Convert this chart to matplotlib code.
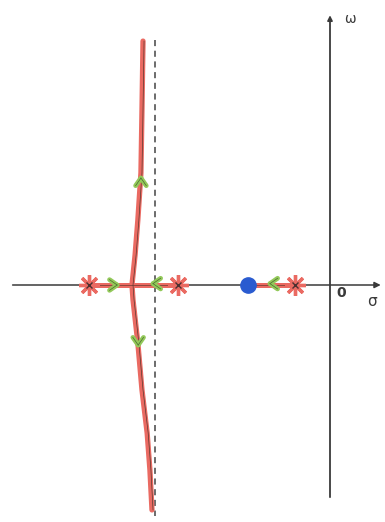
import matplotlib
matplotlib.use("Agg")
import matplotlib.pyplot as plt
import numpy as np

# Open-loop poles and zero on the real axis (s-plane units)
poles = [-6.99, -4.41, -1.01]
zeros = [-2.38]
asymptote_sigma = -5.07

# Complex branch leaving the breakaway point (hand-sketched shape)
branch_sigma = [-5.42, -5.45, -5.48, -5.57, -5.65, -5.74, -5.71, -5.57, -5.45, -5.30, -5.22, -5.16]
branch_omega = [7.07, 5.07, 3.25, 1.88, 0.87, 0.0, -0.43, -1.68, -3.04, -4.29, -5.36, -6.52]

# Real-axis locus segments
real_segments = [(-6.99, -4.41), (-2.38, -1.01)]

# Direction arrows: (sigma, omega, direction angle in degrees)
arrow_sigma = [-5.48, -5.56, -6.17, -5.13, -1.74]
arrow_omega = [3.10, -1.74, 0.0, 0.04, 0.04]
arrow_angle = [90, -90, 0, 180, 180]

scale = 34.5  # pixels per unit
W, H = 385, 522
x0, y0 = 330, 285  # origin position in pixels

fig = plt.figure(figsize=(W / 100, H / 100), dpi=100)
ax = fig.add_axes([0, 0, 1, 1])
ax.set_xlim(-x0 / scale, (W - x0) / scale)
ax.set_ylim(-(H - y0) / scale, y0 / scale)
ax.axis("off")

axis_col = "#3a3a3a"
red = "#ea6a62"
green = "#93c95a"

# Coordinate axes
ax.annotate("", xy=(1.55, 0), xytext=(-9.28, 0),
            arrowprops=dict(arrowstyle="-|>", color=axis_col, lw=1.1,
                            mutation_scale=9))
ax.annotate("", xy=(0, 7.9), xytext=(0, -6.23),
            arrowprops=dict(arrowstyle="-|>", color=axis_col, lw=1.3,
                            mutation_scale=7))

# Asymptote
ax.plot([asymptote_sigma, asymptote_sigma], [7.1, -6.7], ls=(0, (4, 3)),
        color="#444444", lw=1.1, zorder=2)

# Real-axis locus
for a, b in real_segments:
    ax.plot([a, b], [0, 0], color=red, lw=3.6, solid_capstyle="round", zorder=3)
    ax.plot([a, b], [0, 0], color="#6a3a30", lw=0.5, zorder=4)

# Complex branch
ax.plot(branch_sigma, branch_omega, color=red, lw=3.8, solid_capstyle="round",
        solid_joinstyle="round", zorder=3)
ax.plot(np.array(branch_sigma) + 0.03, branch_omega, color="#5a3a30", lw=0.5,
        zorder=4)

# Direction chevrons
L = 0.27
for s, w, ang in zip(arrow_sigma, arrow_omega, arrow_angle):
    t = np.deg2rad(ang)
    for d in (145, -145):
        u = t + np.deg2rad(d)
        ax.plot([s, s + L * np.cos(u)], [w, w + L * np.sin(u)],
                color=green, lw=3.4, solid_capstyle="round", zorder=5)
        ax.plot([s, s + L * np.cos(u)], [w, w + L * np.sin(u)],
                color="#4a6a30", lw=0.5, zorder=6)

# Poles and zero
ax.plot(poles, [0] * len(poles), ls="none", marker=(8, 2, 0), ms=15,
        mec=red, mew=2.4, zorder=7)
ax.plot(poles, [0] * len(poles), ls="none", marker="x", ms=5,
        mec="#4a3030", mew=1.0, zorder=8)
ax.plot(zeros, [0] * len(zeros), ls="none", marker="o", ms=11,
        mfc="#2a5bd0", mec="#2a5bd0", zorder=7)

# Axis labels
ax.text(0.33, -0.22, "0", fontsize=10, fontweight="bold", color="#3a3a3a",
        ha="center", va="center")
ax.text(1.22, -0.47, "σ", fontsize=11, color="#3a3a3a", ha="center", va="center")
ax.text(0.58, 7.72, "ω", fontsize=10, color="#3a3a3a",
        ha="center", va="center")

fig.savefig("out.png", dpi=100, facecolor="white")
